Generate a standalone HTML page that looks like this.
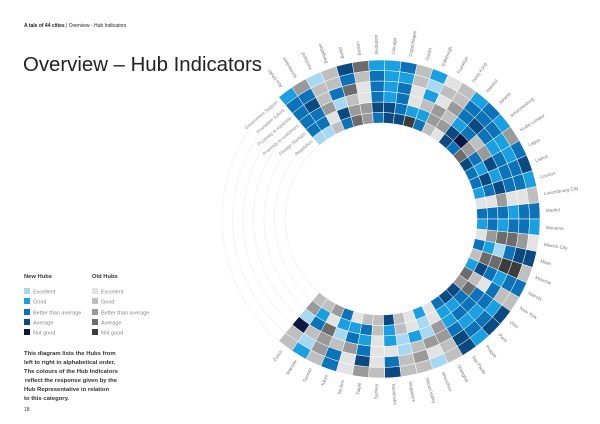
<!DOCTYPE html>
<html><head><meta charset="utf-8"><style>
body{margin:0;background:#fff;width:600px;height:424px;overflow:hidden;font-family:"Liberation Sans",sans-serif}
</style></head><body>
<svg id="s" width="600" height="424" xmlns="http://www.w3.org/2000/svg" style="position:absolute;left:0;top:0">
<text x="24" y="27" font-size="5" fill="#222"><tspan font-weight="bold">A tale of 44 cities</tspan> | Overview - Hub Indicators</text>
<text x="23" y="71" font-size="20" fill="#222" textLength="239" lengthAdjust="spacingAndGlyphs">Overview – Hub Indicators</text>
<text x="24" y="278" font-size="5.8" font-weight="bold" fill="#333">New Hubs</text>
<text x="92" y="278" font-size="5.8" font-weight="bold" fill="#333">Old Hubs</text>
<g font-size="5.5" fill="#888">
<rect x="24" y="288" width="6" height="6" fill="#a6d8f4"/><text x="33" y="293.5">Excellent</text>
<rect x="24" y="298" width="6" height="6" fill="#1a9fe0"/><text x="33" y="303.5">Good</text>
<rect x="24" y="309" width="6" height="6" fill="#0d73b8"/><text x="33" y="314.5">Better than average</text>
<rect x="24" y="319" width="6" height="6" fill="#0b4a80"/><text x="33" y="324.5">Average</text>
<rect x="24" y="329" width="6" height="6" fill="#0d1740"/><text x="33" y="334.5">Not good</text>
<rect x="92" y="288" width="6" height="6" fill="#e3e3e3"/><text x="101" y="293.5">Excellent</text>
<rect x="92" y="298" width="6" height="6" fill="#bfbfbf"/><text x="101" y="303.5">Good</text>
<rect x="92" y="309" width="6" height="6" fill="#9a9a9a"/><text x="101" y="314.5">Better than average</text>
<rect x="92" y="319" width="6" height="6" fill="#6c6c6c"/><text x="101" y="324.5">Average</text>
<rect x="92" y="329" width="6" height="6" fill="#3c3c3c"/><text x="101" y="334.5">Not good</text>
</g>
<g font-size="5.9" font-weight="bold" fill="#333">
<text x="24" y="355">This diagram lists the Hubs from</text>
<text x="24" y="364">left to right in alphabetical order.</text>
<text x="24" y="373">The colours of the Hub Indicators</text>
<text x="25" y="382">reflect the response given by the</text>
<text x="24" y="391">Hub Representative in relation</text>
<text x="24" y="400">to this category.</text>
</g>
<text x="24" y="411" font-size="5" fill="#333">18</text>
<g id="chart"></g>
</svg>
<script>
var cx=381,cy=219,Ri=96,w=10.5,start=-40,span=260,N=44;
var cities=["Abu Dhabi","Amsterdam","Auckland","Bangalore","Berlin","Boston","Budapest","Chicago","Copenhagen","Dublin","Edinburgh","Frankfurt","Hong Kong","Istanbul","Jakarta","Johannesburg","Kuala Lumpur","Lagos","Lisbon","London","Luxembourg City","Madrid","Manama","Mexico City","Milan","Moscow","Nairobi","New York","Oslo","Paris","Prague","Sao Paulo","Shanghai","Shenzhen","Silicon Valley","Singapore","Stockholm","Sydney","Taipei","Tel Aviv","Tokyo","Toronto","Warsaw","Zurich"];
var inds=["Regulation","Foreign Startups","Proximity to customers","Proximity to expertise","Innovation culture","Government Support"];
var col={A:"#a6d8f4",B:"#1a9fe0",C:"#0d73b8",D:"#0b4a80",E:"#0d1740",a:"#e3e3e3",b:"#bfbfbf",c:"#9a9a9a",d:"#6c6c6c",e:"#3c3c3c"};
var data=["ACCCCB","ACCDCc","bacbbA","CDACbb","dcbdCD","ccaabd","CDCCCB","DDBBBB","DCCCBC","eBaabb","CBbBAB","bccaba","acbcbb","DDBCCB","CECDCC","dcbCCB","DCcBBc","CBDCBC","CDBCCD","BCDCCB","aacaab","CCCBCC","BCBCCB","acddca","CBACDD","bddeeb","BDCBCC","dbaCbb","cdCCBD","DCCBCD","DBCBCB","CBBCDD","aaccbb","BAAcaA","aaBbcb","bbAAbb","DBBaCD","bbaaab","bCBCDc","aBCcaa","CBAbCC","cadccb","bBCbAB","bcAEbb","bbcccb"];
var g=document.getElementById("chart"),ns="http://www.w3.org/2000/svg";
function P(r,a){a=a*Math.PI/180;return [cx+r*Math.sin(a),cy-r*Math.cos(a)];}
function el(t,at,txt){var e=document.createElementNS(ns,t);for(var k in at)e.setAttribute(k,at[k]);if(txt)e.textContent=txt;g.appendChild(e);return e;}
for(var k=0;k<=6;k++){var r=Ri+k*w,p1=P(r,start+span),p2=P(r,360+start);
el("path",{d:"M"+p1+" A"+r+","+r+" 0 0 1 "+p2,fill:"none",stroke:"#ececec","stroke-width":0.6});}
var da=span/N;
for(var i=0;i<N;i++){var a0=start+i*da,a1=a0+da,s=data[i]||"aaaaaa";
for(var k=0;k<6;k++){var r0=Ri+k*w,r1=r0+w,q1=P(r0,a0),q2=P(r1,a0),q3=P(r1,a1),q4=P(r0,a1);
el("path",{d:"M"+q1+" L"+q2+" A"+r1+","+r1+" 0 0 1 "+q3+" L"+q4+" A"+r0+","+r0+" 0 0 0 "+q1+"Z",fill:col[s[k]],stroke:"#fff","stroke-width":0.5});}
var am=a0+da/2,L=Ri+6*w+6;
if(am<180){var p=P(L,am);el("text",{x:p[0],y:p[1]+1.5,"font-size":4.6,fill:"#777",transform:"rotate("+(am-90)+" "+p[0]+" "+p[1]+")"},cities[i]);}
else{var p=P(L,am);el("text",{x:p[0],y:p[1]+1.5,"font-size":4.6,fill:"#777","text-anchor":"end",transform:"rotate("+(am-270)+" "+p[0]+" "+p[1]+")"},cities[i]);}
}
for(var k=0;k<6;k++){var r=Ri+k*w+w/2+1.5,p=P(r,start-1.5);
el("text",{x:p[0],y:p[1],"font-size":4.5,fill:"#888","text-anchor":"end",transform:"rotate("+(start)+" "+p[0]+" "+p[1]+")"},inds[k]);}
</script>
</body></html>
